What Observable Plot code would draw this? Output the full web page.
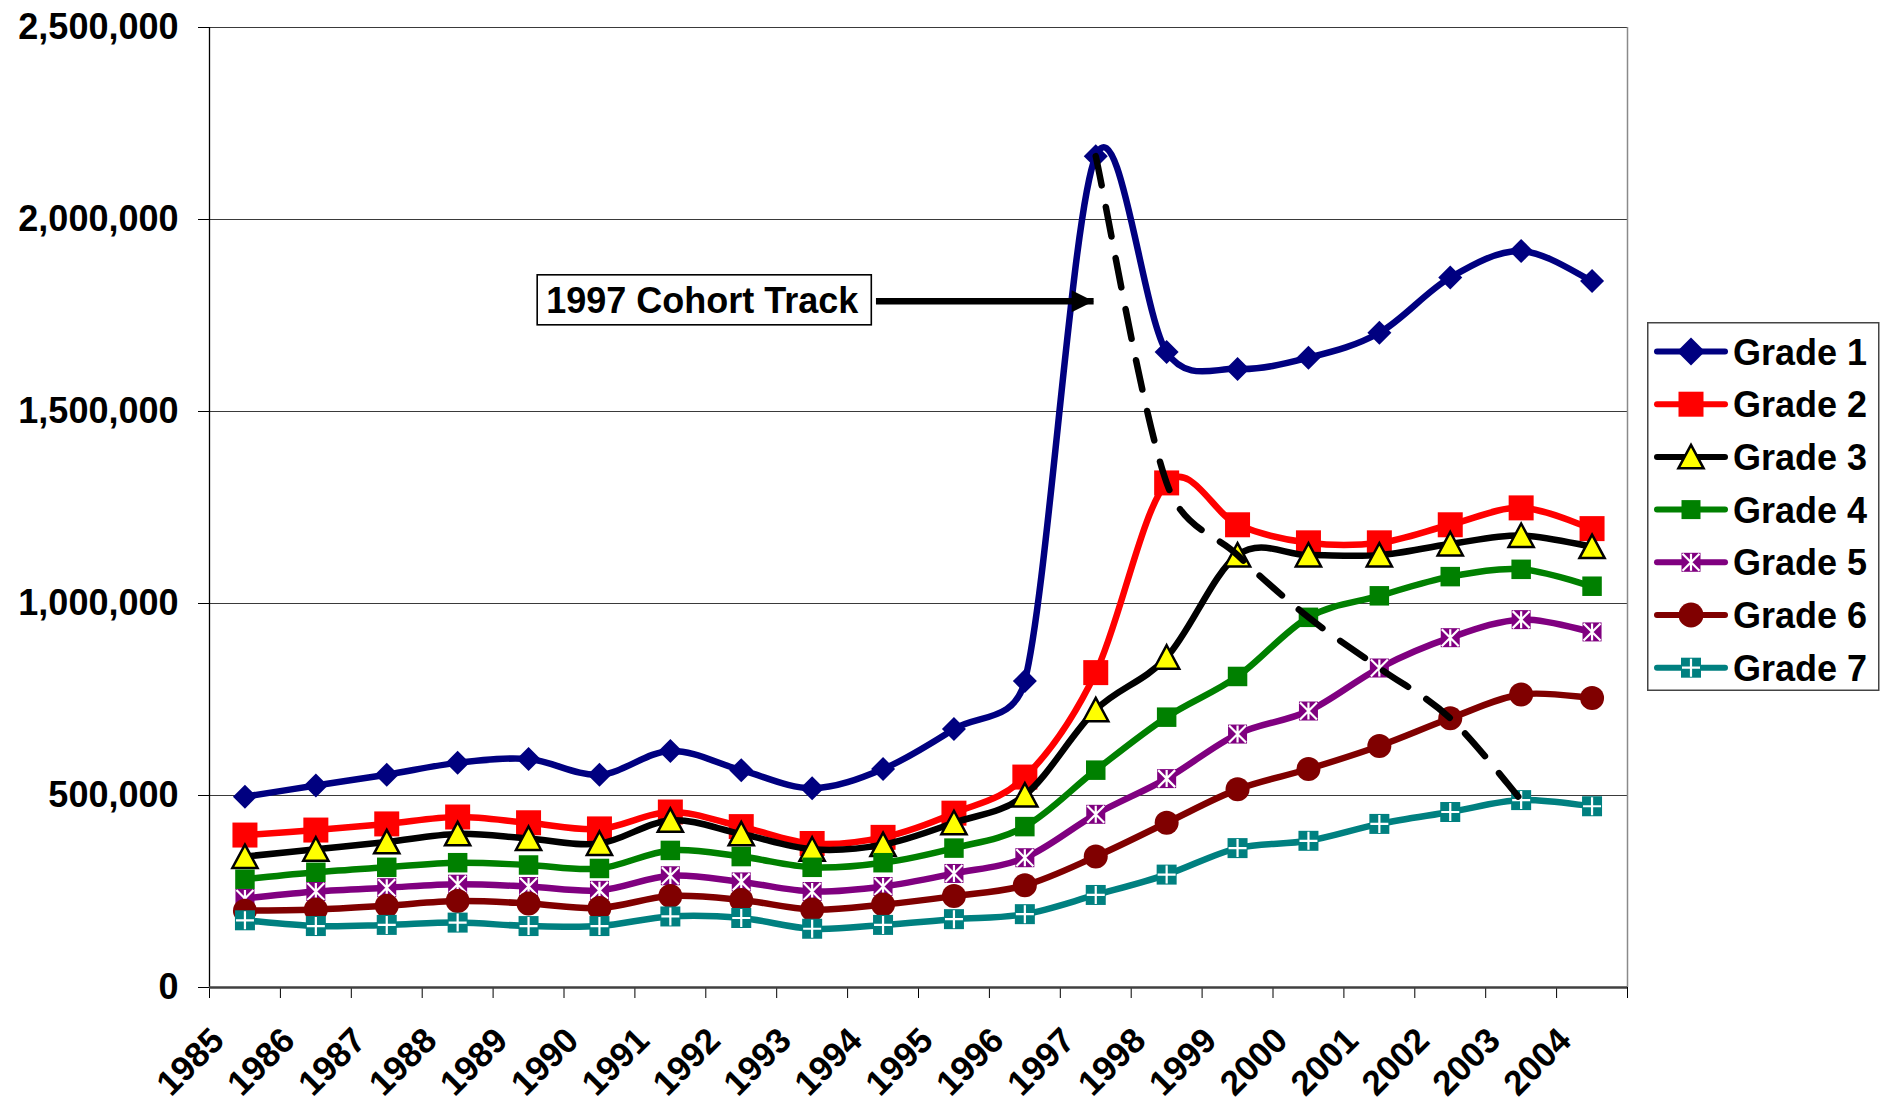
<!DOCTYPE html>
<html><head><meta charset="utf-8">
<script src="https://cdn.jsdelivr.net/npm/d3@7"></script>
<script src="https://cdn.jsdelivr.net/npm/@observablehq/plot@0.6"></script>
<style>
body{margin:0;background:#fff;}
#wrap{position:relative;width:1883px;height:1107px;font-family:"Liberation Sans",Arial,sans-serif;}
#legend{position:absolute;left:1647px;top:322px;}
</style></head><body><div id="wrap"></div>
<script>
// ---- data ----
const years = [1985,1986,1987,1988,1989,1990,1991,1992,1993,1994,1995,1996,1997,1998,1999,2000,2001,2002,2003,2004];
const seriesNames = ["Grade 1","Grade 2","Grade 3","Grade 4","Grade 5","Grade 6","Grade 7"];
const grade1 = [497000,526000,554000,585000,595000,554000,616000,566000,519000,569000,673000,798000,2165000,1655000,1611000,1640000,1705000,1849000,1918000,1840000];
const grade2 = [397000,410000,426000,444000,429000,413000,457000,419000,375000,391000,454000,548000,820000,1314000,1205000,1158000,1158000,1205000,1249000,1195000];
const grade3 = [341000,360000,379000,400000,388000,375000,435000,400000,360000,372000,429000,501000,723000,860000,1126000,1126000,1126000,1155000,1177000,1148000];
const grade4 = [282000,300000,313000,325000,319000,310000,357000,341000,313000,325000,363000,419000,566000,704000,810000,964000,1020000,1070000,1089000,1045000];
const grade5 = [232000,250000,260000,269000,263000,253000,291000,275000,250000,263000,297000,338000,451000,544000,660000,720000,832000,911000,958000,926000];
const grade6 = [200000,203000,213000,225000,219000,207000,238000,228000,203000,216000,238000,266000,341000,429000,516000,569000,629000,701000,763000,754000];
const grade7 = [175000,160000,163000,169000,160000,160000,185000,181000,153000,163000,178000,191000,241000,294000,363000,382000,426000,457000,488000,472000];
const yTicks = [0,500000,1000000,1500000,2000000,2500000];
const xBoundaries = [1985,1986,1987,1988,1989,1990,1991,1992,1993,1994,1995,1996,1997,1998,1999,2000,2001,2002,2003,2004,2005];
const cohortStartYear = 1997;
const annotationText = "1997 Cohort Track";
const annotationPos = {year: 1991.95, value: 1787000};
const arrowSpec = {fromYear: 1994.4, toYear: 1997.47, value: 1787000};

const gradeValues = [grade1,grade2,grade3,grade4,grade5,grade6,grade7];

// ---- Excel-like smoothed curve (Bezier, 1/6 tangents, arms clamped to half the segment) ----
function excelSmooth(context) {
  let pts = [];
  return {
    areaStart(){}, areaEnd(){},
    lineStart(){ pts = []; },
    point(x, y){ pts.push([+x, +y]); },
    lineEnd(){
      const n = pts.length;
      if (!n) return;
      context.moveTo(pts[0][0], pts[0][1]);
      for (let i = 0; i < n - 1; i++) {
        const p0 = pts[i], p1 = pts[i+1];
        const pm = pts[i-1] || p0, pp = pts[i+2] || p1;
        const seg = Math.hypot(p1[0]-p0[0], p1[1]-p0[1]);
        let t1 = [(p1[0]-pm[0])/6, (p1[1]-pm[1])/6];
        let t2 = [(pp[0]-p0[0])/6, (pp[1]-p0[1])/6];
        const clamp = t => { const l = Math.hypot(t[0], t[1]); const m = 0.5*seg; return l > m ? [t[0]*m/l, t[1]*m/l] : t; };
        t1 = clamp(t1); t2 = clamp(t2);
        context.bezierCurveTo(p0[0]+t1[0], p0[1]+t1[1], p1[0]-t2[0], p1[1]-t2[1], p1[0], p1[1]);
      }
    }
  };
}

// ---- symbols ----
const rOf = s => Math.sqrt(s/Math.PI);
const diamondSym = {draw(c,s){const r=rOf(s);c.moveTo(0,-r);c.lineTo(r,0);c.lineTo(0,r);c.lineTo(-r,0);c.closePath();}};
const squareSym = {draw(c,s){const r=rOf(s);c.moveTo(-r,-r);c.lineTo(r,-r);c.lineTo(r,r);c.lineTo(-r,r);c.closePath();}};
const triSym = {draw(c,s){const r=rOf(s);c.moveTo(0,-r);c.lineTo(r*1.05,r*0.95);c.lineTo(-r*1.05,r*0.95);c.closePath();}};
const circleSym = {draw(c,s){const r=rOf(s);c.moveTo(r,0);c.arc(0,0,r,0,2*Math.PI);}};
const starSym = {draw(c,s){const r=rOf(s);c.moveTo(-r,-r);c.lineTo(r,r);c.moveTo(-r,r);c.lineTo(r,-r);c.moveTo(0,-r);c.lineTo(0,r);}};
const plusSym = {draw(c,s){const r=rOf(s);c.moveTo(-r,0);c.lineTo(r,0);c.moveTo(0,-r);c.lineTo(0,r);}};
const headSym = {draw(c,s){const r=rOf(s);c.moveTo(0,0);c.lineTo(-2*r,-r);c.lineTo(-2*r,r);c.closePath();}};

// ---- styles ----
const styles = [
  {color:"#000080", sym:diamondSym, r:12, fill:"#000080", stroke:"none", sw:0, legR:14},
  {color:"#FF0000", sym:squareSym, r:12.5, fill:"#FF0000", stroke:"none", sw:0, legR:12.5},
  {color:"#000000", sym:triSym, r:12, fill:"#FFFF00", stroke:"#000000", sw:2.5, legR:12},
  {color:"#008000", sym:squareSym, r:9.75, fill:"#008000", stroke:"none", sw:0, legR:9.5},
  {color:"#800080", sym:squareSym, r:9.5, fill:"#800080", stroke:"none", sw:0, legR:9.5, over:starSym, overR:8.5},
  {color:"#800000", sym:circleSym, r:12, fill:"#800000", stroke:"none", sw:0, legR:12.5},
  {color:"#008080", sym:squareSym, r:10, fill:"#008080", stroke:"none", sw:0, legR:10, over:plusSym, overR:9}
];

const seriesData = gradeValues.map((vals,i) => years.map((yr,j) => ({year: yr, value: vals[j], grade: seriesNames[i]})));
const cohort = gradeValues.map((vals,k) => ({year: cohortStartYear + k, value: vals[years.indexOf(cohortStartYear + k)]}))
  .filter(d => d.value !== undefined);

const X = d => d.year + 0.5;

const marks = [
  Plot.gridY(yTicks.slice(1), {stroke:"#3a3a3a", strokeOpacity:1, strokeWidth:1.2}),
  Plot.ruleX([2005], {stroke:"#8a8a8a", strokeWidth:1.5}),
  Plot.ruleX([1985], {stroke:"#000", strokeWidth:1.3}),
  Plot.axisY({ticks: yTicks, tickSize: 11, tickPadding: 20, tickFormat: d3.format(","), fontSize: 36, fontWeight: "bold", label: null}),
  Plot.axisX({ticks: xBoundaries, tickSize: 11, tickFormat: () => "", label: null}),
  Plot.ruleY([0], {stroke:"#404040", strokeWidth:2.5}),
  Plot.text(years, {x: d => d + 0.5, frameAnchor: "bottom", text: d => String(d), rotate: -45, textAnchor: "end", dx: -19, dy: 55, fontSize: 35, fontWeight: "bold", fill: "#000"})
];
seriesData.forEach((data,i) => {
  const st = styles[i];
  marks.push(Plot.line(data, {x: X, y: "value", stroke: st.color, strokeWidth: 6.5, curve: excelSmooth, strokeLinejoin: "round"}));
  marks.push(Plot.dot(data, {x: X, y: "value", symbol: st.sym, r: st.r, fill: st.fill, stroke: st.stroke, strokeWidth: st.sw}));
  if (st.over) marks.push(Plot.dot(data, {x: X, y: "value", symbol: st.over, r: st.overR, fill: "none", stroke: "white", strokeWidth: 2.2}));
});
marks.push(Plot.line(cohort, {x: X, y: "value", stroke: "#000", strokeWidth: 6.5, strokeDasharray: "30,22", curve: excelSmooth}));
marks.push(Plot.link([arrowSpec], {x1: "fromYear", x2: "toYear", y1: "value", y2: "value", stroke: "#000", strokeWidth: 6.5}));
marks.push(Plot.dot([arrowSpec], {x: "toYear", y: "value", symbol: headSym, r: 11, fill: "#000", stroke: "none"}));
marks.push(Plot.text([annotationText], {x: () => annotationPos.year, y: () => annotationPos.value, text: d => d, fontSize: 36, fontWeight: "bold", fill: "#000"}));

const chart = Plot.plot({
  width: 1883, height: 1107,
  marginLeft: 209, marginRight: 256, marginTop: 27, marginBottom: 120,
  x: {type: "linear", domain: [1985, 2005]},
  y: {type: "linear", domain: [0, 2500000]},
  style: {fontFamily: "'Liberation Sans', Arial, sans-serif", background: "white", color: "black"},
  marks
});
const wrap = document.getElementById("wrap");
wrap.appendChild(chart);

// box behind annotation text
chart.querySelectorAll("text").forEach(t => {
  if (t.textContent === annotationText) {
    const bb = t.getBBox();
    const rect = document.createElementNS("http://www.w3.org/2000/svg","rect");
    rect.setAttribute("x", bb.x - 9); rect.setAttribute("y", bb.y - 5);
    rect.setAttribute("width", bb.width + 21); rect.setAttribute("height", bb.height + 9);
    rect.setAttribute("fill", "white"); rect.setAttribute("stroke", "#000"); rect.setAttribute("stroke-width", 1.6);
    if (t.getAttribute("transform")) rect.setAttribute("transform", t.getAttribute("transform"));
    t.parentNode.insertBefore(rect, t);
  }
});

// ---- legend ----
const leg = d3.create("svg").attr("id","legend").attr("width", 233).attr("height", 370)
  .style("font-family", "'Liberation Sans', Arial, sans-serif");
leg.append("rect").attr("x",0.75).attr("y",0.75).attr("width",231).attr("height",367.5)
  .attr("fill","white").attr("stroke","#444").attr("stroke-width",1.5);
const symPath = (sym, r) => { const p = d3.path(); sym.draw(p, Math.PI*r*r); return p.toString(); };
seriesNames.forEach((name,i) => {
  const st = styles[i];
  const cy = 29.5 + i*52.7;
  const g = leg.append("g").attr("transform", `translate(0,${cy})`);
  g.append("line").attr("x1",10).attr("x2",78).attr("y1",0).attr("y2",0)
    .attr("stroke", st.color).attr("stroke-width", 6).attr("stroke-linecap","round");
  g.append("path").attr("transform","translate(44,0)").attr("d", symPath(st.sym, st.legR))
    .attr("fill", st.fill).attr("stroke", st.stroke).attr("stroke-width", st.sw);
  if (st.over) g.append("path").attr("transform","translate(44,0)").attr("d", symPath(st.over, st.overR))
    .attr("fill","none").attr("stroke","white").attr("stroke-width",2.2);
  g.append("text").attr("x", 86).attr("y", 13).attr("font-size", 36).attr("font-weight","bold").attr("fill","#000").text(name);
});
wrap.appendChild(leg.node());
</script></body></html>
